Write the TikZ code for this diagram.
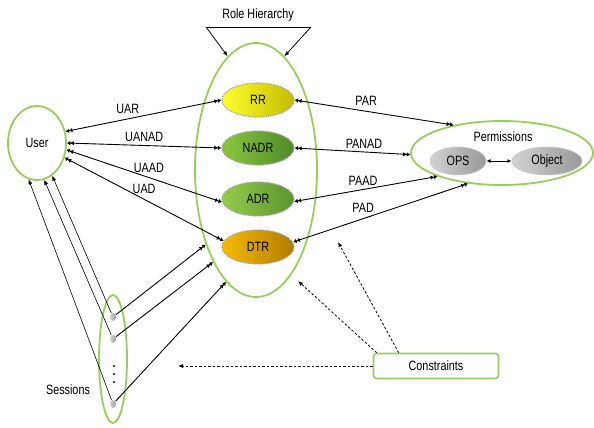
\documentclass[tikz,border=0pt]{standalone}
\usepackage{fontspec}
\setmainfont{Liberation Sans}[FakeStretch=0.8]
\usetikzlibrary{shapes.geometric,arrows.meta}
\definecolor{lgreen}{HTML}{96D05C}
\definecolor{rrL}{HTML}{FFFF30}
\definecolor{rrR}{HTML}{C4BC00}
\definecolor{naL}{HTML}{8CC63F}
\definecolor{naR}{HTML}{4E8A2A}
\definecolor{adL}{HTML}{96CC4A}
\definecolor{adR}{HTML}{5A9530}
\definecolor{dtL}{HTML}{F7BA00}
\definecolor{dtR}{HTML}{B07C00}
\tikzset{
  dbl/.style={line width=0.9pt,{Latex[length=3.5pt,width=4.5pt]Latex[length=3.5pt,width=4.5pt]}-{Latex[length=3.5pt,width=4.5pt]Latex[length=3.5pt,width=4.5pt]}},
  dblend/.style={line width=0.9pt,-{Latex[length=3.5pt,width=4.5pt]Latex[length=3.5pt,width=4.5pt]}},
  single/.style={line width=0.6pt,-{Latex[length=5pt,width=4pt]}},
  dasharrow/.style={line width=0.8pt,dash pattern=on 2.5pt off 2pt,-{Latex[length=5pt,width=4pt]}},
  greenell/.style={ellipse,draw=lgreen,line width=1.8pt,inner sep=0pt},
  rolenode/.style={ellipse,draw=gray!70,densely dotted,line width=1.2pt,minimum width=72pt,minimum height=34pt,inner sep=0pt,font=\fontsize{13.5}{15}\selectfont},
  greynode/.style={ellipse,draw=gray!45,densely dotted,line width=1pt,inner sep=0pt,left color=gray!35,right color=gray!80,font=\fontsize{13.5}{15}\selectfont},
  lbl/.style={font=\fontsize{13.5}{15}\selectfont},
}
\begin{document}
\begin{tikzpicture}[x=1pt,y=-1pt]
\useasboundingbox (0,0) rectangle (594,428);
% role hierarchy ellipse
\node[greenell,minimum width=122pt,minimum height=254pt] (role) at (256,170) {};
\node[lbl] (rh) at (258,15) {Role Hierarchy};
\coordinate (bl) at (206,27);
\coordinate (br) at (311,27);
\draw[line width=0.8pt] (bl) -- (br);
\draw[single,line width=0.8pt] (bl) -- (role.104);
\draw[single,line width=0.8pt] (br) -- (role.76);
% roles
\node[rolenode,left color=rrL,right color=rrR] (rr) at (258,100) {RR};
\node[rolenode,left color=naL,right color=naR] (nadr) at (258,148) {NADR};
\node[rolenode,left color=adL,right color=adR] (adr) at (258,199) {ADR};
\node[rolenode,left color=dtL,right color=dtR] (dtr) at (258,247) {DTR};
% user
\node[greenell,minimum width=58pt,minimum height=74pt,lbl] (user) at (37,143) {User};
% permissions
\node[greenell,minimum width=182pt,minimum height=64pt] (perm) at (502,153) {};
\node[lbl] (permlbl) at (503,137) {Permissions};
\node[greynode,minimum width=56pt,minimum height=28pt] (ops) at (458,161) {OPS};
\node[greynode,minimum width=70pt,minimum height=28pt] (obj) at (547,161) {Object};
\draw[line width=0.8pt,{Latex[length=4pt,width=4pt]}-{Latex[length=4pt,width=4pt]}] (ops.east) -- (obj.west);
% user-role
\draw[dbl] (user.22) -- (rr.west) node[lbl,pos=0.4,above=1pt] {UAR};
\draw[dbl] (user.0) -- (nadr.west) node[lbl,pos=0.5,above=0pt] {UANAD};
\draw[dbl] (user.-13) -- (adr.185) node[lbl,pos=0.53,above=1pt] {UAAD};
\draw[dbl] (user.-28) -- (dtr.170) node[lbl,pos=0.5,above=2pt] {UAD};
% role-perm
\draw[dbl] (rr.east) -- (perm.150) node[lbl,pos=0.45,above=2pt] {PAR};
\draw[dbl] (nadr.east) -- (perm.181) node[lbl,pos=0.6,above=0pt] {PANAD};
\draw[dbl] (adr.-4) -- (perm.200) node[lbl,pos=0.48,above=0pt] {PAAD};
\draw[dbl] (dtr.8) -- (perm.222) node[lbl,pos=0.4,above=2pt] {PAD};
% sessions
\node[greenell,minimum width=28pt,minimum height=128pt] (sess) at (113,359) {};
\node[lbl] (sesslbl) at (68,390) {Sessions};
\node[greynode,draw=none,minimum width=6pt,minimum height=8pt] (s1) at (113,317) {};
\node[greynode,draw=none,minimum width=6pt,minimum height=8pt] (s2) at (113,339) {};
\node[greynode,draw=none,minimum width=6pt,minimum height=8pt] (s3) at (113,404) {};
\fill (114,366) circle (1.1) (114,374) circle (1.1) (114,382) circle (1.1);
\draw[single] (s3) -- (user.257);
\draw[single] (s2) -- (user.281);
\draw[single] (s1) -- (user.295);
\draw[dblend] (s1) -- (role.236);
\draw[dblend] (s2) -- (role.245);
\draw[dblend] (s3) -- (role.255);
% constraints
\node[draw=lgreen,line width=1.6pt,rounded corners=3pt,minimum width=125pt,minimum height=25pt,lbl] (cons) at (436,366) {Constraints};
\coordinate (t1) at (178,366);
\coordinate (t2) at (298,281);
\coordinate (t3) at (338,242);
\draw[dasharrow] (cons.west) -- (t1);
\draw[dasharrow] ([xshift=4pt]cons.north west) -- (t2);
\draw[dasharrow] ([xshift=26pt]cons.north west) -- (t3);
\end{tikzpicture}
\end{document}
